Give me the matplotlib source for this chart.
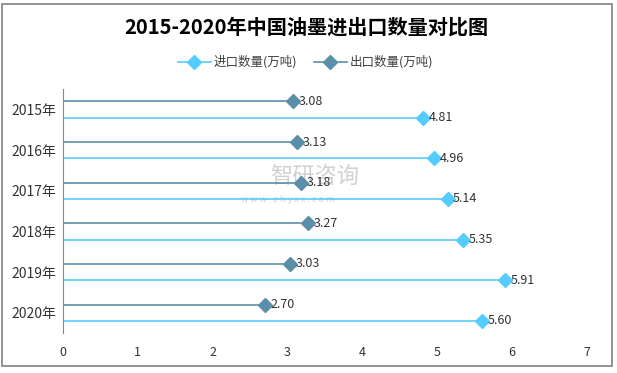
import numpy as np
import matplotlib
matplotlib.use("Agg")
from matplotlib import pyplot as plt
from matplotlib.patches import Rectangle

plt.rcParams['font.family'] = ['Noto Sans CJK SC', 'DejaVu Sans']

years = ["2015年", "2016年", "2017年", "2018年", "2019年", "2020年"]
import_qty = [4.81, 4.96, 5.14, 5.35, 5.91, 5.60]
export_qty = [3.08, 3.13, 3.18, 3.27, 3.03, 2.70]

c_import = "#55CCFF"
c_export = "#5B8FA9"

fig = plt.figure(figsize=(6.17, 3.73), dpi=100)
fig.patches.append(Rectangle((0.004, 0.02), 0.988, 0.968, transform=fig.transFigure,
                             fill=False, edgecolor="#808080", linewidth=1.2))
ax = fig.add_axes([0.102, 0.107, 0.849, 0.654])

# watermark, behind the data
ax.text(0.438, 0.523, "智研咨询", transform=fig.transFigure, fontsize=16,
        color="#d0d0d0", ha="left", va="center", zorder=0)
ax.text(0.39, 0.466, "w w w . c h y x x . c o m", transform=fig.transFigure,
        fontsize=6.5, color="#d0d0d0", ha="left", va="center", zorder=0)

pos = np.arange(len(years))
off = 0.2
ax.hlines(pos - off, 0, export_qty, color=c_export, linewidth=1.2)
ax.hlines(pos + off, 0, import_qty, color=c_import, linewidth=1.2)
ax.plot(import_qty, pos + off, linestyle="none", marker="D", markersize=7,
        color=c_import)
ax.plot(export_qty, pos - off, linestyle="none", marker="D", markersize=7,
        color=c_export)

for i in range(len(years)):
    ax.annotate(f"{export_qty[i]:.2f}", (export_qty[i], pos[i] - off), xytext=(4, 0),
                textcoords="offset points", va="center", ha="left", fontsize=9, color="#333333")
    ax.annotate(f"{import_qty[i]:.2f}", (import_qty[i], pos[i] + off), xytext=(4, 0),
                textcoords="offset points", va="center", ha="left", fontsize=9, color="#333333")

ax.set_xlim(0, 7)
ax.set_ylim(len(years) - 0.5, -0.5)
ax.set_xticks(range(0, 8))
ax.set_yticks(pos)
ax.set_yticklabels(years)
ax.tick_params(axis="both", length=0, labelsize=9, colors="#333333")
ax.tick_params(axis="y", labelsize=10, pad=5)
ax.tick_params(axis="x", pad=9)
for s in ["top", "right", "bottom"]:
    ax.spines[s].set_visible(False)
ax.spines["left"].set_color("#868686")

# legend: line + diamond handles
h1 = plt.Line2D([], [], color=c_import, marker="D", markersize=7, linewidth=1.2)
h2 = plt.Line2D([], [], color=c_export, marker="D", markersize=7, linewidth=1.2)
fig.legend([h1, h2], ["进口数量(万吨)", "出口数量(万吨)"], loc="center",
           bbox_to_anchor=(0.495, 0.833), ncol=2, frameon=False, fontsize=9,
           handlelength=2.6, columnspacing=1.4, handletextpad=0.2,
           labelcolor="#404040", markerfirst=True)

fig.text(0.497, 0.928, "2015-2020年中国油墨进出口数量对比图", ha="center", va="center",
         fontsize=14.5, fontweight="bold", color="black")

fig.savefig("out.png", dpi=100)
